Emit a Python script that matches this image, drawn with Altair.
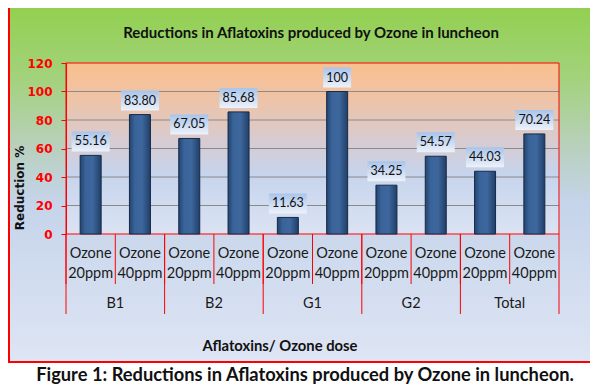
import altair as alt
import pandas as pd

groups = ["B1", "B1", "B2", "B2", "G1", "G1", "G2", "G2", "Total", "Total"]
doses = ["20ppm", "40ppm", "20ppm", "40ppm", "20ppm", "40ppm", "20ppm", "40ppm", "20ppm", "40ppm"]
values = [55.16, 83.80, 67.05, 85.68, 11.63, 100, 34.25, 54.57, 44.03, 70.24]
value_labels = ["55.16", "83.80", "67.05", "85.68", "11.63", "100", "34.25", "54.57", "44.03", "70.24"]
y_ticks = [0, 20, 40, 60, 80, 100, 120]
grid_values = [20, 40, 60, 80, 100]

title_text = "Reductions in Aflatoxins produced by Ozone in luncheon"
x_title = "Aflatoxins/ Ozone dose"
y_title = "Reduction %"
caption = "Figure 1: Reductions in Aflatoxins produced by Ozone in luncheon."

keys = [f"{g} {d}" for g, d in zip(groups, doses)]
df = pd.DataFrame({"key": keys, "group": groups, "dose": doses,
                   "value": values, "label": value_labels})
one = pd.DataFrame({"a": [0]})

W, H = 493, 171
FONT = "Lato"

xscale = alt.Scale(domain=keys, paddingInner=0, paddingOuter=0)
yscale = alt.Scale(domain=[0, 120], nice=False, zero=True)
yaxis = alt.Axis(values=y_ticks, grid=False, title=None, domainColor="#ff0000",
                 tickColor="#ff0000", labelColor="#ff0000", labelFont="DejaVu Sans",
                 labelFontWeight="bold", labelFontSize=12, tickSize=5,
                 labelPadding=9, zindex=1)
X = alt.X("key:N", scale=xscale, axis=None)
X0 = alt.X("key:N", scale=xscale, axis=None, bandPosition=0)
Y = alt.Y("value:Q", scale=yscale, axis=yaxis)


def vgrad(stops):
    return {"gradient": "linear", "x1": 0, "y1": 0, "x2": 0, "y2": 1,
            "stops": [{"offset": o, "color": c} for o, c in stops]}


def hgrad(stops):
    return {"gradient": "linear", "x1": 0, "y1": 0, "x2": 1, "y2": 0,
            "stops": [{"offset": o, "color": c} for o, c in stops]}


outer_grad = vgrad([(0, "#92d050"), (0.2, "#a3d27c"), (0.4, "#b9d0bf"),
                    (0.55, "#c5d4ea"), (1, "#dee5f4")])
plot_grad = vgrad([(0, "#fabf8e"), (0.2, "#efc3a5"), (0.45, "#d8cbd0"),
                   (0.65, "#c6d4ec"), (1, "#dbe3f3")])
bar_grad = hgrad([(0, "#23446f"), (0.25, "#3a6399"), (0.6, "#3d679d"), (1, "#213f68")])
box_grad = vgrad([(0, "#a8c4ea"), (1, "#edf2fa")])

outer = alt.Chart(one).mark_rect(fill=outer_grad, stroke="#ff0000", strokeWidth=2).encode(
    x=alt.value(-57), x2=alt.value(526), y=alt.value(-56), y2=alt.value(299))

plot_bg = alt.Chart(one).mark_rect(fill=plot_grad).encode(
    x=alt.value(0), x2=alt.value(W), y=alt.value(0), y2=alt.value(H))

grid = alt.Chart(pd.DataFrame({"value": grid_values})).mark_rule(
    color="#8a8a8a", strokeWidth=1).encode(y=Y, x=alt.value(0), x2=alt.value(W))

border = alt.Chart(one).mark_rect(fill="transparent", stroke="#ff0000", strokeWidth=1).encode(
    x=alt.value(0), x2=alt.value(W), y=alt.value(0), y2=alt.value(H))

sub_sep = alt.Chart(df).mark_rule(color="#ff0000", strokeWidth=1).encode(
    x=X0, y=alt.value(H), y2=alt.value(H + 50))
grp_sep = alt.Chart(df).transform_filter("datum.dose == '20ppm'").mark_rule(
    color="#ff0000", strokeWidth=1).encode(x=X0, y=alt.value(H), y2=alt.value(H + 80))
end_sep = alt.Chart(one).mark_rule(color="#ff0000", strokeWidth=1).encode(
    x=alt.value(W), y=alt.value(H), y2=alt.value(H + 80))

bars = alt.Chart(df).mark_bar(size=21, fill=bar_grad, stroke="#162a48", strokeWidth=1).encode(
    x=X, y=Y)

box5 = alt.Chart(df).transform_filter("length(datum.label) == 5").mark_bar(
    size=38, fill=box_grad, yOffset=-4, y2Offset=-24).encode(x=X, y=Y, y2="value:Q")
box3 = alt.Chart(df).transform_filter("length(datum.label) == 3").mark_bar(
    size=28, fill=box_grad, yOffset=-4, y2Offset=-24).encode(x=X, y=Y, y2="value:Q")

vlabels = alt.Chart(df).mark_text(dy=-14, baseline="middle", font=FONT, fontSize=12.5,
                                  color="#111111").encode(x=X, y=Y, text="label:N")

ozone_txt = alt.Chart(df).transform_calculate(t="'Ozone'").mark_text(
    baseline="middle", font=FONT, fontSize=14.5, color="#1a1a1a").encode(
    x=X, y=alt.value(H + 20), text="t:N")
dose_txt = alt.Chart(df).mark_text(baseline="middle", font=FONT, fontSize=14.5,
                                   color="#1a1a1a").encode(
    x=X, y=alt.value(H + 40), text="dose:N")
group_txt = alt.Chart(df).transform_filter("datum.dose == '20ppm'").mark_text(
    baseline="middle", font=FONT, fontSize=14.5, color="#1a1a1a", dx=W / 20).encode(
    x=X, y=alt.value(H + 70), text="group:N")

ytitle = alt.Chart(one).mark_text(angle=270, baseline="middle", font="DejaVu Sans",
                                  fontWeight="bold", fontSize=12, color="#111111").encode(
    x=alt.value(-46), y=alt.value(125), text=alt.value(y_title))
xtitle = alt.Chart(one).mark_text(baseline="middle", font=FONT, fontWeight="bold",
                                  fontSize=14.8, color="#111111").encode(
    x=alt.value(214), y=alt.value(284), text=alt.value(x_title))
ctitle = alt.Chart(one).mark_text(baseline="middle", font=FONT, fontWeight="bold",
                                  fontSize=15, color="#111111").encode(
    x=alt.value(245), y=alt.value(-30), text=alt.value(title_text))
cap = alt.Chart(one).mark_text(baseline="middle", font=FONT, fontWeight="bold",
                               fontSize=18.3, color="#111111").encode(
    x=alt.value(239), y=alt.value(313), text=alt.value(caption))

chart = alt.layer(
    outer, plot_bg, grid, border, sub_sep, grp_sep, end_sep, bars, box5, box3, vlabels,
    ozone_txt, dose_txt, group_txt, ytitle, xtitle, ctitle, cap
).properties(
    width=W, height=H,
    autosize=alt.AutoSizeParams(type="none"),
    padding={"left": 58, "top": 55, "right": 31, "bottom": 150},
).configure_view(strokeWidth=0)

chart.save("out.html", embed_options={"renderer": "svg", "actions": False})
